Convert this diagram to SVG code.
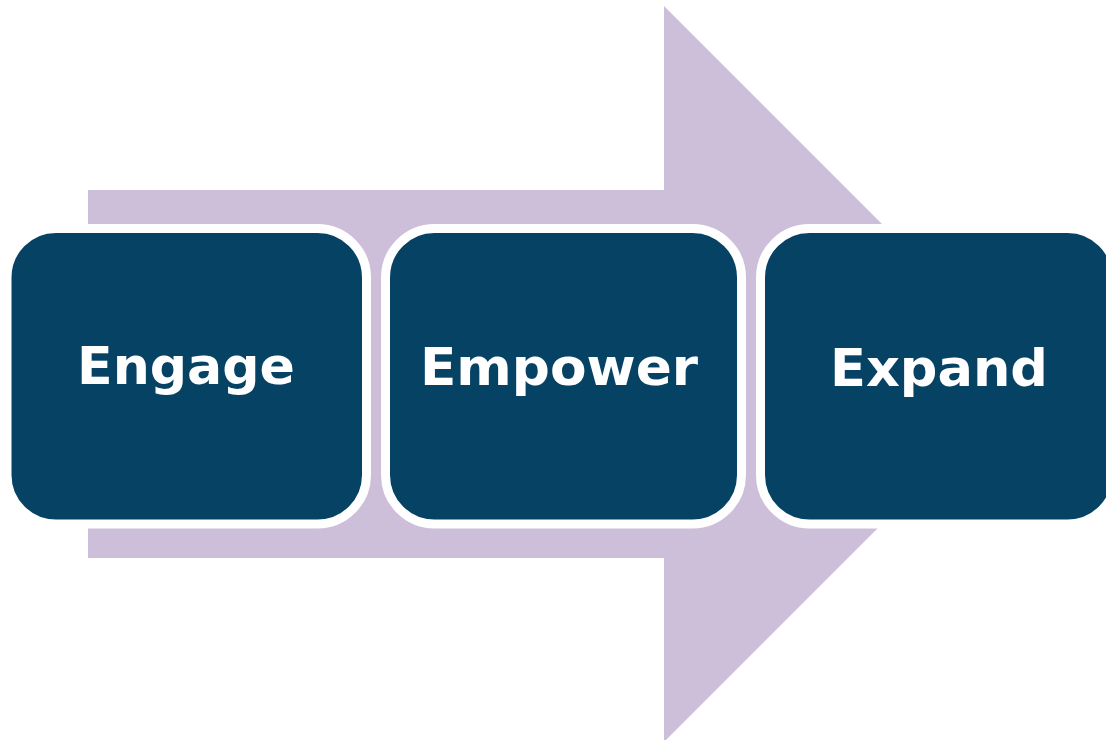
<svg xmlns="http://www.w3.org/2000/svg" width="1106" height="740" viewBox="0 0 1106 740">
  <style>
    .box { fill: #064264; stroke: #ffffff; stroke-width: 9; }
    .label { fill: #ffffff; font-family: "DejaVu Sans", "Liberation Sans", sans-serif; font-weight: bold; font-size: 51px; text-anchor: middle; }
  </style>
  <rect width="1106" height="740" fill="#ffffff"/>
  <!-- big background arrow -->
  <g id="connectors">
    <polygon points="88,190 664,190 664,6 1032,374 664,742 664,558 88,558" fill="#cdbfd9"/>
  </g>
  <g id="engage">
    <rect class="box" x="7" y="228.5" width="359.5" height="295.5" rx="49" ry="49"/>
    <text class="label" x="186" y="384" textLength="218" lengthAdjust="spacingAndGlyphs">Engage</text>
  </g>
  <g id="empower">
    <rect class="box" x="385.5" y="228.5" width="356" height="295.5" rx="49" ry="49"/>
    <text class="label" x="559" y="385" textLength="278" lengthAdjust="spacingAndGlyphs">Empower</text>
  </g>
  <g id="expand">
    <rect class="box" x="760.5" y="228.5" width="356" height="295.5" rx="49" ry="49"/>
    <text class="label" x="939" y="386" textLength="218" lengthAdjust="spacingAndGlyphs">Expand</text>
  </g>
</svg>
